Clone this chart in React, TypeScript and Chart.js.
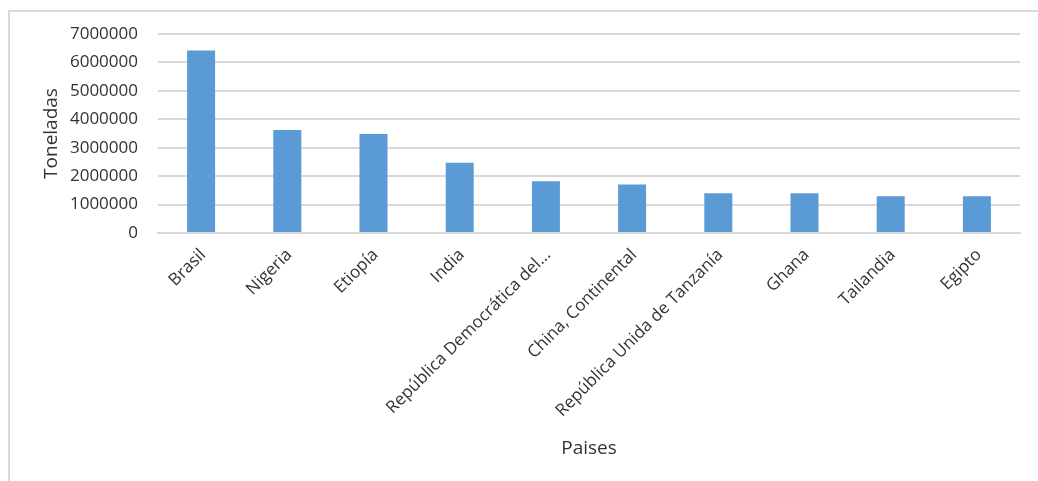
import React, { useEffect, useRef } from "react";
import { Chart, registerables } from "chart.js";

Chart.register(...registerables);

const categories = [
  "Brasil",
  "Nigeria",
  "Etiopía",
  "India",
  "República Democrática del...",
  "China, Continental",
  "República Unida de Tanzanía",
  "Ghana",
  "Tailandia",
  "Egipto",
];

const toneladas = [6420000, 3620000, 3480000, 2470000, 1820000, 1710000, 1400000, 1400000, 1290000, 1290000];

const yTicks = [0, 1000000, 2000000, 3000000, 4000000, 5000000, 6000000, 7000000];

const FONT = "'Open Sans', 'Noto Sans', sans-serif";

export default function App() {
  const ref = useRef<HTMLCanvasElement>(null);

  useEffect(() => {
    if (!ref.current) return;
    const chart = new Chart(ref.current, {
      type: "bar",
      data: {
        labels: categories,
        datasets: [
          {
            data: toneladas,
            backgroundColor: "#5B9BD5",
            barPercentage: 0.325,
            categoryPercentage: 1,
          },
        ],
      },
      options: {
        responsive: false,
        animation: false,
        maintainAspectRatio: false,
        layout: { padding: { left: 28, top: 22, right: 18, bottom: 0 } },
        plugins: {
          legend: { display: false },
          tooltip: { enabled: false },
        },
        scales: {
          x: {
            afterFit: (s: any) => {
              s.height = 248;
            },
            grid: { display: false, drawTicks: false },
            border: { display: true, color: "#d9d9d9", width: 2 },
            ticks: {
              autoSkip: false,
              maxRotation: 45,
              minRotation: 45,
              color: "#333333",
              padding: 12,
              labelOffset: 2,
              font: { family: FONT, size: 17 },
            },
            title: {
              display: true,
              text: "Paises",
              color: "#333333",
              font: { family: FONT, size: 19 },
              padding: { top: 0, bottom: 21 },
            },
          },
          y: {
            min: 0,
            max: 7000000,
            afterFit: (s: any) => {
              s.width = 120;
              s.paddingTop = 0;
              s.paddingBottom = 0;
            },
            afterBuildTicks: (s: any) => {
              s.ticks = yTicks.map((v) => ({ value: v }));
            },
            grid: { color: "#d9d9d9", lineWidth: 2, drawTicks: false },
            border: { display: false },
            ticks: {
              color: "#333333",
              padding: 20,
              font: { family: FONT, size: 17 },
              callback: (v: any) => String(v),
            },
            title: {
              display: true,
              text: "Toneladas",
              color: "#333333",
              font: { family: FONT, size: 19 },
              padding: { top: 2, bottom: 0 },
            },
          },
        },
      },
    });
    return () => chart.destroy();
  }, []);

  return (
    <div
      style={{
        position: "absolute",
        left: 8,
        top: 10,
        width: 1030,
        height: 471,
        boxSizing: "border-box",
        borderTop: "2px solid #d9d9d9",
        borderLeft: "2px solid #d9d9d9",
        background: "#ffffff",
      }}
    >
      <canvas ref={ref} width={1028} height={469} style={{ display: "block" }} />
    </div>
  );
}
